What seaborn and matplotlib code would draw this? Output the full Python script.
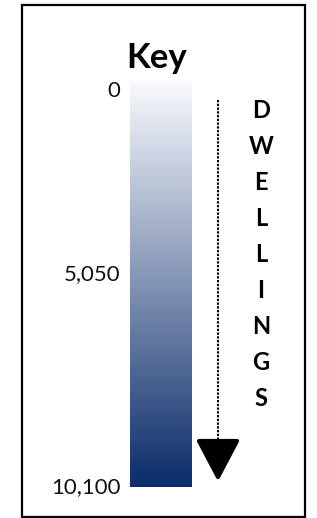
# legend key for dwellings: a vertical gradient bar drawn with seaborn heatmap
import numpy as np
import matplotlib
matplotlib.use('Agg')
import matplotlib.pyplot as plt
import seaborn as sns
from matplotlib.colors import LinearSegmentedColormap
from matplotlib.patches import Rectangle, Polygon

# data for the key
key_min = 0
key_max = 10100
tick_values = [0, 5050, 10100]
tick_labels = ['0', '5,050', '10,100']
side_word = 'DWELLINGS'
title = 'Key'

sns.set_style('white')
plt.rcParams['font.family'] = ['Lato', 'DejaVu Sans']

W, H = 317, 518
fig = plt.figure(figsize=(W / 100, H / 100), dpi=100)

# frame round the whole key
fig.patches.append(Rectangle((22 / W, 1 - 517 / H), 283 / W, 512 / H,
                             transform=fig.transFigure, fill=False,
                             edgecolor='black', linewidth=1.6))

# gradient bar
cmap = LinearSegmentedColormap.from_list('dw', ['#f8f9fc', '#0b2c6a'])
steps = 256
grad = np.linspace(key_min, key_max, steps).reshape(-1, 1)
ax = fig.add_axes([130 / W, 1 - 487 / H, 62 / W, 406 / H])
sns.heatmap(grad, cmap=cmap, vmin=key_min, vmax=key_max, cbar=False,
            xticklabels=False, ax=ax)
pos = [steps * (v - key_min) / (key_max - key_min) for v in tick_values]
ax.set_yticks(pos)
ax.set_yticklabels(tick_labels, rotation=0, fontsize=16, color='#111111')
ax.tick_params(axis='y', length=0, pad=7)
ax.set_ylabel('')
labs = ax.get_yticklabels()
labs[0].set_va('top')
labs[1].set_va('bottom')

# overlay in pixel units for title, arrow and letters
ov = fig.add_axes([0, 0, 1, 1])
ov.set_xlim(0, W)
ov.set_ylim(H, 0)
ov.axis('off')
ov.patch.set_alpha(0)

ov.text(157, 68, title, ha='center', va='baseline', fontsize=25,
        fontweight='bold', color='black')

ov.plot([218, 218], [100, 442], color='black', linewidth=1.5,
        linestyle=(0, (1.1, 0.7)))
ov.add_patch(Polygon([[199, 441], [237, 441], [218, 477]], closed=True,
                     facecolor='black', edgecolor='black', linewidth=3,
                     joinstyle='round'))

for i, ch in enumerate(side_word):
    ov.text(261, 110 + i * 36, ch, ha='center', va='center', fontsize=17,
            fontweight='bold', color='black')

fig.savefig('out.png', dpi=100)
